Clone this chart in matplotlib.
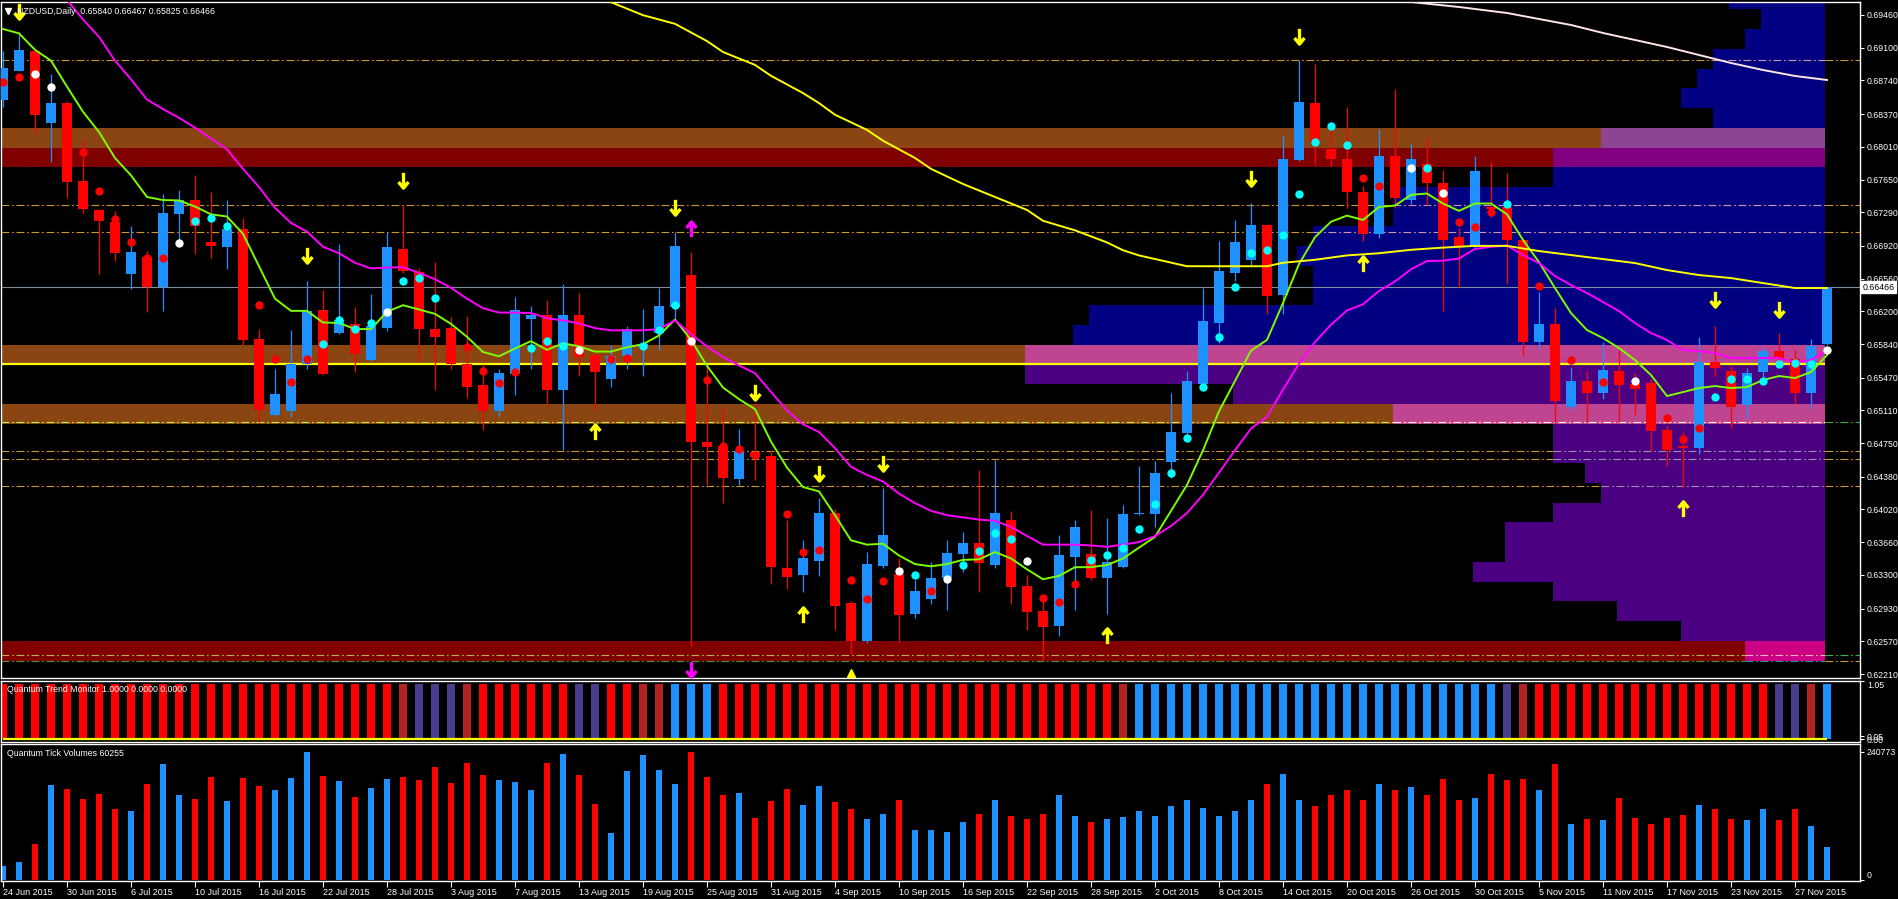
import numpy as np
import matplotlib
matplotlib.use("Agg")
import matplotlib.pyplot as plt
from matplotlib.path import Path

plt.rcParams["font.family"] = ["Liberation Sans", "DejaVu Sans"]

# NZDUSD daily candles, bar 0 = 24 Jun 2015
opens = [0.68520, 0.68849, 0.69063, 0.68277, 0.68491, 0.67639, 0.67320, 0.67182, 0.66610, 0.66801,
         0.66467, 0.67267, 0.67420, 0.66967, 0.66910, 0.67101, 0.65891, 0.65062, 0.65100, 0.65615,
         0.66220, 0.65957, 0.66057, 0.65662, 0.66015, 0.66891, 0.66634, 0.66005, 0.66015, 0.65615,
         0.65386, 0.65100, 0.65505, 0.66115, 0.66162, 0.65338, 0.66162, 0.65719, 0.65457, 0.65710,
         0.65805, 0.65957, 0.66243, 0.66600, 0.64767, 0.64719, 0.64357, 0.64648, 0.64610, 0.63376,
         0.63304, 0.63457, 0.63981, 0.62990, 0.62576, 0.63395, 0.63314, 0.62871, 0.63038, 0.63262,
         0.63528, 0.63652, 0.63409, 0.63900, 0.63176, 0.62904, 0.62733, 0.63495, 0.63528, 0.63271,
         0.63385, 0.63967, 0.63967, 0.64543, 0.64862, 0.65395, 0.66077, 0.66624, 0.66767, 0.67153,
         0.66377, 0.67863, 0.68491, 0.67987, 0.67877, 0.67515, 0.67048, 0.67910, 0.67424, 0.67825,
         0.67615, 0.67015, 0.66910, 0.67348, 0.67348, 0.66985, 0.65862, 0.66060, 0.65147, 0.65433,
         0.65301, 0.65543, 0.65400, 0.65411, 0.64894, 0.64718, 0.64696, 0.65642, 0.65543, 0.65169,
         0.65532, 0.65763, 0.65675, 0.65301, 0.65840]
highs = [0.69063, 0.69268, 0.69077, 0.68806, 0.68515, 0.68091, 0.67329, 0.67301, 0.67143, 0.66862,
         0.67496, 0.67539, 0.67701, 0.67515, 0.67420, 0.67229, 0.66005, 0.65562, 0.66000, 0.66539,
         0.66439, 0.66943, 0.66243, 0.66386, 0.67077, 0.67367, 0.66681, 0.66739, 0.66134, 0.66153,
         0.65624, 0.65567, 0.66362, 0.66262, 0.66329, 0.66496, 0.66405, 0.65753, 0.65829, 0.66043,
         0.66229, 0.66462, 0.67077, 0.66858, 0.65610, 0.65138, 0.64900, 0.65195, 0.64671, 0.63909,
         0.63686, 0.64148, 0.64028, 0.63014, 0.63552, 0.64252, 0.63481, 0.63243, 0.63443, 0.63686,
         0.63776, 0.64457, 0.64567, 0.64005, 0.63304, 0.63076, 0.63738, 0.63909, 0.64019, 0.63924,
         0.64067, 0.64495, 0.64552, 0.65305, 0.65548, 0.66458, 0.66977, 0.67210, 0.67396, 0.67163,
         0.68144, 0.68968, 0.68920, 0.68196, 0.68449, 0.67577, 0.68210, 0.68649, 0.68044, 0.68120,
         0.67753, 0.67115, 0.67910, 0.67844, 0.67720, 0.67007, 0.66412, 0.66236, 0.65587, 0.65543,
         0.65862, 0.65774, 0.65521, 0.65455, 0.64949, 0.64872, 0.65917, 0.66038, 0.65598, 0.65576,
         0.65807, 0.65961, 0.65774, 0.65895, 0.66467]
lows = [0.68444, 0.68839, 0.68148, 0.67839, 0.67448, 0.67277, 0.66610, 0.66753, 0.66443, 0.66196,
        0.66205, 0.66948, 0.66829, 0.66791, 0.66662, 0.65829, 0.64972, 0.65053, 0.65038, 0.65567,
        0.65496, 0.65948, 0.65529, 0.65648, 0.65981, 0.66624, 0.65648, 0.65338, 0.65562, 0.65243,
        0.64895, 0.65043, 0.65281, 0.65562, 0.65181, 0.64671, 0.65491, 0.65124, 0.65362, 0.65562,
        0.65491, 0.65776, 0.66100, 0.62519, 0.64290, 0.64090, 0.64290, 0.64348, 0.63195, 0.63147,
        0.63109, 0.63290, 0.62695, 0.62433, 0.62552, 0.63376, 0.62561, 0.62823, 0.62976, 0.62919,
        0.63328, 0.63109, 0.63376, 0.62981, 0.62695, 0.62361, 0.62623, 0.62919, 0.63243, 0.62871,
        0.63376, 0.63957, 0.63828, 0.64362, 0.64853, 0.65386, 0.65848, 0.66539, 0.66710, 0.66172,
        0.66172, 0.67849, 0.67825, 0.67801, 0.67339, 0.66977, 0.67005, 0.67339, 0.67377, 0.67372,
        0.66205, 0.66467, 0.66900, 0.67243, 0.66496, 0.65708, 0.65785, 0.64971, 0.65114, 0.64982,
        0.65235, 0.64982, 0.65059, 0.64663, 0.64498, 0.64267, 0.64630, 0.65488, 0.64916, 0.65015,
        0.65400, 0.65631, 0.65180, 0.65125, 0.65825]
closes = [0.68877, 0.69077, 0.68363, 0.68491, 0.67625, 0.67324, 0.67191, 0.66839, 0.66858, 0.66467,
          0.67277, 0.67420, 0.67139, 0.66920, 0.67101, 0.65886, 0.65114, 0.65286, 0.65624, 0.66205,
          0.65505, 0.66100, 0.65729, 0.66043, 0.66910, 0.66639, 0.66005, 0.65919, 0.65624, 0.65367,
          0.65100, 0.65519, 0.66220, 0.66162, 0.65338, 0.66162, 0.65696, 0.65529, 0.65710, 0.66005,
          0.65838, 0.66262, 0.66924, 0.64767, 0.64710, 0.64362, 0.64662, 0.64600, 0.63385, 0.63281,
          0.63481, 0.63981, 0.62957, 0.62576, 0.63419, 0.63738, 0.62862, 0.63124, 0.63266, 0.63543,
          0.63652, 0.63433, 0.63981, 0.63162, 0.62895, 0.62728, 0.63519, 0.63824, 0.63271, 0.63447,
          0.63967, 0.63981, 0.64424, 0.64872, 0.65429, 0.66091, 0.66648, 0.66958, 0.67153, 0.66372,
          0.67877, 0.68506, 0.68077, 0.67877, 0.67510, 0.67048, 0.67910, 0.67448, 0.67877, 0.67610,
          0.66982, 0.66905, 0.67748, 0.67324, 0.66982, 0.65862, 0.66060, 0.65213, 0.65433, 0.65301,
          0.65554, 0.65389, 0.65345, 0.64883, 0.64674, 0.64696, 0.65642, 0.65576, 0.65147, 0.65521,
          0.65763, 0.65675, 0.65301, 0.65818, 0.66466]

volumes = [26000, 33800, 67500, 178200, 170700, 152000, 161300, 133200, 129500, 180100,
           217600, 159500, 152000, 193200, 148200, 191400, 176400, 168900, 191400, 240100,
           195100, 185700, 155700, 172600, 189500, 193200, 187600, 212000, 182000, 219500,
           197000, 187600, 183900, 168900, 219500, 236400, 197000, 142600, 88200, 204500,
           234500, 206400, 180100, 240100, 193200, 159500, 163200, 116300, 148200, 170700,
           140700, 176400, 146300, 133200, 114400, 123800, 150100, 93800, 93800, 90100,
           110000, 125000, 150000, 120000, 115000, 125000, 160000, 120000, 110000, 115000,
           118000, 130000, 120000, 140000, 150000, 135000, 120000, 130000, 150000, 180000,
           200000, 150000, 140000, 160000, 170000, 150000, 180000, 170000, 175000, 160000,
           190000, 150000, 155000, 200000, 188100, 190000, 169300, 218200, 105300, 114700,
           112900, 154200, 116600, 105300, 116600, 122300, 141100, 133600, 114700, 112900,
           133600, 112900, 133600, 101600, 62100]

# r = red, f = firebrick, s = slate blue, b = blue
trend_state = ("rrrrrrrrrrrrrrrrrrrrrrrrr" "f" "sss" "f" "rrrrrr" "ss" "rr" "ff" "bbb"
               "rrrrrrrrrrrrrrrrrrrrrrrrr" "f" "bbbbbbbbbbbbbbbbbbbbbbb" "s" "f"
               "rrrrrrrrrrrrrrr" "ss" "f" "b")

fast_ma = [0.69306, 0.69258, 0.69077, 0.68958, 0.68672, 0.68396, 0.68172, 0.67887, 0.67696, 0.67458,
           0.67424, 0.67420, 0.67353, 0.67267, 0.67243, 0.67053, 0.66696, 0.66339, 0.66205, 0.66205,
           0.66077, 0.66072, 0.66005, 0.66005, 0.66196, 0.66267, 0.66220, 0.66172, 0.66062, 0.65919,
           0.65753, 0.65705, 0.65791, 0.65872, 0.65776, 0.65848, 0.65815, 0.65757, 0.65757, 0.65805,
           0.65838, 0.65934, 0.66110, 0.65886, 0.65600, 0.65362, 0.65234, 0.65124, 0.64767, 0.64481,
           0.64267, 0.64219, 0.63957, 0.63681, 0.63633, 0.63643, 0.63514, 0.63419, 0.63395, 0.63419,
           0.63466, 0.63471, 0.63552, 0.63481, 0.63362, 0.63252, 0.63290, 0.63385, 0.63385, 0.63409,
           0.63481, 0.63600, 0.63719, 0.64005, 0.64290, 0.64671, 0.65100, 0.65434, 0.65767, 0.65886,
           0.66291, 0.66720, 0.67015, 0.67186, 0.67253, 0.67205, 0.67348, 0.67363, 0.67482, 0.67496,
           0.67386, 0.67305, 0.67386, 0.67386, 0.67267, 0.66985, 0.66742, 0.66456, 0.66181, 0.65994,
           0.65906, 0.65796, 0.65664, 0.65499, 0.65268, 0.65312, 0.65356, 0.65378, 0.65356, 0.65367,
           0.65444, 0.65488, 0.65466, 0.65532, 0.65719]

slow_ma_start = 4
slow_ma = [0.69625, 0.69411, 0.69220, 0.68958, 0.68753, 0.68530, 0.68425, 0.68329, 0.68220, 0.68101,
           0.67982, 0.67767, 0.67567, 0.67339, 0.67172, 0.67077, 0.66910, 0.66839, 0.66734, 0.66672,
           0.66681, 0.66686, 0.66624, 0.66553, 0.66458, 0.66339, 0.66234, 0.66186, 0.66186, 0.66181,
           0.66124, 0.66100, 0.66067, 0.66015, 0.65991, 0.65991, 0.65991, 0.66005, 0.66100, 0.65948,
           0.65815, 0.65696, 0.65605, 0.65519, 0.65314, 0.65110, 0.64957, 0.64872, 0.64695, 0.64490,
           0.64400, 0.64328, 0.64195, 0.64090, 0.64005, 0.63957, 0.63933, 0.63909, 0.63895, 0.63828,
           0.63728, 0.63633, 0.63633, 0.63633, 0.63624, 0.63609, 0.63633, 0.63662, 0.63728, 0.63838,
           0.63981, 0.64181, 0.64424, 0.64671, 0.64910, 0.65038, 0.65338, 0.65624, 0.65862, 0.66053,
           0.66210, 0.66277, 0.66424, 0.66529, 0.66662, 0.66753, 0.66758, 0.66781, 0.66886, 0.66910,
           0.66924, 0.66819, 0.66731, 0.66588, 0.66489, 0.66401, 0.66302, 0.66203, 0.66071, 0.65961,
           0.65884, 0.65774, 0.65763, 0.65741, 0.65686, 0.65686, 0.65686, 0.65686, 0.65642, 0.65664,
           0.65774]

long_ma_idx = [38, 40, 42, 43, 44, 45, 47, 48, 50, 51, 52, 54, 55, 57, 58, 60, 62, 64, 65, 67, 69, 70,
               71, 74, 77, 79, 80, 82, 84, 86, 88, 90, 92, 94, 96, 98, 100, 102, 104, 106, 108, 110,
               112, 114]
long_ma = [0.69601, 0.69458, 0.69363, 0.69268, 0.69173, 0.69053, 0.68911, 0.68791, 0.68601, 0.68491,
           0.68363, 0.68196, 0.68077, 0.67887, 0.67767, 0.67601, 0.67458, 0.67315, 0.67196, 0.67091,
           0.66958, 0.66872, 0.66815, 0.66696, 0.66696, 0.66696, 0.66734, 0.66767, 0.66815, 0.66839,
           0.66877, 0.66901, 0.66920, 0.66920, 0.66863, 0.66819, 0.66775, 0.66731, 0.66654, 0.66599,
           0.66566, 0.66511, 0.66456, 0.66456]

base_ma_idx = [88, 91, 94, 96, 98, 100, 102, 104, 106, 108, 110, 112, 114]
base_ma = [0.69603, 0.69548, 0.69482, 0.69416, 0.69350, 0.69262, 0.69185, 0.69108, 0.69020, 0.68932,
           0.68855, 0.68789, 0.68745]

red_dot_idx = [0, 1, 5, 6, 7, 8, 9, 10, 16, 17, 18, 19, 29, 30, 31, 32, 38, 39, 44, 45, 46, 47, 49,
               50, 51, 53, 54, 55, 58, 65, 66, 67, 85, 86, 91, 92, 93, 96, 98, 100, 104, 105, 106]
red_dot = [0.68720, 0.68782, 0.67958, 0.67520, 0.67220, 0.66958, 0.66791, 0.66786, 0.66267, 0.65676,
           0.65424, 0.65676, 0.65810, 0.65543, 0.65410, 0.65534, 0.65672, 0.65681, 0.65448, 0.64719,
           0.64686, 0.64624, 0.63971, 0.63557, 0.63576, 0.63247, 0.63038, 0.63233, 0.63119, 0.63042,
           0.63004, 0.63204, 0.67663, 0.67577, 0.67186, 0.67124, 0.67291, 0.66478, 0.65664, 0.65422,
           0.65026, 0.64795, 0.64916]
white_dot_idx = [2, 3, 11, 24, 36, 43, 56, 59, 64, 88, 90, 102, 114]
white_dot = [0.68806, 0.68663, 0.66948, 0.66196, 0.65776, 0.65876, 0.63338, 0.63252, 0.63457, 0.67772,
             0.67501, 0.65433, 0.65774]
cyan_dot_idx = [12, 13, 14, 20, 21, 22, 23, 25, 26, 27, 33, 34, 35, 40, 41, 42, 57, 60, 61, 62, 63,
                68, 69, 70, 71, 72, 73, 74, 75, 76, 77, 78, 79, 80, 81, 82, 83, 84, 89, 94, 107, 108,
                109, 110, 111, 112, 113]
cyan_dot = [0.67191, 0.67224, 0.67134, 0.65838, 0.66100, 0.66005, 0.66077, 0.66529, 0.66562, 0.66343,
            0.65800, 0.65876, 0.65815, 0.65815, 0.65996, 0.66272, 0.63304, 0.63414, 0.63566, 0.63757,
            0.63690, 0.63466, 0.63514, 0.63600, 0.63800, 0.64076, 0.64424, 0.64810, 0.65372, 0.65919,
            0.66467, 0.66839, 0.66872, 0.67039, 0.67486, 0.68058, 0.68244, 0.68025, 0.67772, 0.67382,
            0.65257, 0.65455, 0.65455, 0.65433, 0.65620, 0.65631, 0.65620]

sell_arrow_idx = [1, 19, 25, 42, 47, 51, 55, 78, 81, 107, 111]
sell_arrow = [0.69504, 0.66815, 0.67648, 0.67348, 0.65314, 0.64419, 0.64529, 0.67672, 0.69234,
              0.66335, 0.66225]
buy_arrow_idx = [37, 50, 69, 85, 105]
buy_arrow = [0.64876, 0.62862, 0.62623, 0.66720, 0.64025]
swing_up_idx, swing_up = [43], [0.67101]
swing_down_idx, swing_down = [43], [0.62266]
tri_idx, tri = [53], [0.62219]

# horizontal zones (top, bottom, colour)
band_top = [0.68217, 0.67997, 0.65829, 0.65180, 0.62573]
band_bot = [0.67997, 0.67788, 0.65620, 0.64960, 0.62353]
band_col = [0x8B4513, 0x800000, 0x8B4513, 0x8B4513, 0x800000]

# volume profile rows: edges top->bottom, start bar of each row
prof_edges = [0.69592, 0.69526, 0.69306, 0.69086, 0.68866, 0.68657, 0.68437, 0.68217, 0.67997,
              0.67788, 0.67568, 0.67348, 0.67139, 0.66918, 0.66698, 0.66478, 0.66269, 0.66049,
              0.65829, 0.65620, 0.65400, 0.65180, 0.64960, 0.64751, 0.64531, 0.64311, 0.64091,
              0.63882, 0.63662, 0.63442, 0.63222, 0.63013, 0.62793, 0.62573, 0.62353]
prof_start = [107.9, 109.9, 108.9, 106.9, 105.9, 104.9, 106.9, 99.9, 96.9, 96.9, 86.9, 86.9, 81.9,
              80.9, 81.9, 81.9, 67.9, 66.9,
              63.9, 63.9, 76.9, 86.9, 96.9, 96.9, 98.9, 99.9, 96.9, 93.9, 93.9, 91.9, 96.9, 100.9,
              104.9, 108.9]
n_upper_rows = 18
prof_end = 113.9

level_lines = [0.68965, 0.67370, 0.67073, 0.64977, 0.64663, 0.64575, 0.64278, 0.62419, 0.62353]
level_cols = [0xD2952A, 0xD2952A, 0xD2952A, 0x3CB043, 0xD2952A, 0xD2952A, 0xD2952A, 0x3CB043,
              0xD2952A]
pivot_level = 0.65615
last_price = 0.66466

price_ticks = [0.69460, 0.69100, 0.68740, 0.68370, 0.68010, 0.67650, 0.67290, 0.66920, 0.66560,
               0.66200, 0.65840, 0.65470, 0.65110, 0.64750, 0.64380, 0.64020, 0.63660, 0.63300,
               0.62930, 0.62570, 0.62210]
date_labels = ["24 Jun 2015", "30 Jun 2015", "6 Jul 2015", "10 Jul 2015", "16 Jul 2015",
               "22 Jul 2015", "28 Jul 2015", "3 Aug 2015", "7 Aug 2015", "13 Aug 2015",
               "19 Aug 2015", "25 Aug 2015", "31 Aug 2015", "4 Sep 2015", "10 Sep 2015",
               "16 Sep 2015", "22 Sep 2015", "28 Sep 2015", "2 Oct 2015", "8 Oct 2015",
               "14 Oct 2015", "20 Oct 2015", "26 Oct 2015", "30 Oct 2015", "5 Nov 2015",
               "11 Nov 2015", "17 Nov 2015", "23 Nov 2015", "27 Nov 2015"]

BULL, BEAR = "#1E90FF", "#FF0000"
TREND_COL = {"r": "#FF0000", "f": "#B22222", "s": "#483D8B", "b": "#1E90FF"}
W, H = 1899, 899
XMIN = -0.125
XMAX = XMIN + 1859 / 16
PMIN, PMAX = 0.62166, 0.69603


def px_box(x0, y0, x1, y1):
    return [x0 / W, 1 - y1 / H, (x1 - x0) / W, (y1 - y0) / H]


def hexcol(v):
    return "#%06X" % v


fig = plt.figure(figsize=(W / 100, H / 100), dpi=100, facecolor="black")
ax = fig.add_axes(px_box(1, 2, 1860, 678))
ax_tm = fig.add_axes(px_box(1, 681, 1860, 742))
ax_vol = fig.add_axes(px_box(1, 744, 1860, 881))
for a in (ax, ax_tm, ax_vol):
    a.set_facecolor("black")
    for s in a.spines.values():
        s.set_color("white")
        s.set_linewidth(1.0)
    a.set_xlim(XMIN, XMAX)
    a.tick_params(axis="x", bottom=False, labelbottom=False)
    a.yaxis.tick_right()
    a.tick_params(axis="y", colors="white", length=3, width=0.8, pad=2, labelsize=6.3,
                  left=False, labelleft=False)

# background objects combine like MT4 (xor of colours)
nx, ny = 1859, 676
xc = XMIN + (np.arange(nx) + 0.5) * (XMAX - XMIN) / nx
yc = PMIN + (np.arange(ny) + 0.5) * (PMAX - PMIN) / ny
canvas = np.zeros((ny, nx), dtype=np.int64)


def xor_rect(x0, x1, p_lo, p_hi, color):
    cols = (xc >= x0) & (xc < x1)
    rows = (yc >= p_lo) & (yc < p_hi)
    canvas[np.ix_(rows, cols)] ^= color


for k, start in enumerate(prof_start):
    col = 0x000080 if k < n_upper_rows else 0x4B0082
    xor_rect(start, prof_end, prof_edges[k + 1], prof_edges[k], col)
for top, bot, col in zip(band_top, band_bot, band_col):
    xor_rect(XMIN - 1, prof_end, bot, top, col)

rgb = np.dstack([(canvas >> 16) & 255, (canvas >> 8) & 255, canvas & 255]) / 255.0
ax.imshow(rgb, extent=[XMIN, XMAX, PMIN, PMAX], origin="lower", aspect="auto",
          interpolation="nearest", zorder=0)

# dash-dot levels, xor-ed with whatever lies under them
for p, col in zip(level_lines, level_cols):
    row = canvas[min(np.searchsorted(yc, p), ny - 1)]
    cuts = np.flatnonzero(np.diff(row)) + 1
    for i0, i1 in zip(np.r_[0, cuts], np.r_[cuts, nx]):
        ax.hlines(p, xc[i0] - 1 / 32, xc[i1 - 1] + 1 / 32, color=hexcol(col ^ int(row[i0])),
                  lw=0.8, linestyle=(0, (7, 2.5, 1.5, 2.5)), zorder=1)
ax.axhline(last_price, color="#7F8C99", lw=0.8, zorder=1)

o, h, l, c = (np.array(v) for v in (opens, highs, lows, closes))
x = np.arange(len(o))
candle_col = np.where(c >= o, BULL, BEAR)
ax.vlines(x, l, h, colors=candle_col, linewidth=0.9, zorder=3)
ax.bar(x, np.maximum(np.abs(c - o), 0.00011), bottom=np.minimum(o, c), width=0.65,
       color=candle_col, linewidth=0, zorder=4)

ax.hlines(pivot_level, XMIN, prof_end, color="#FFFF00", lw=1.6, zorder=2)
ax.plot(x, fast_ma, color="#7CFC00", lw=1.4, zorder=5)
ax.plot(np.arange(slow_ma_start, slow_ma_start + len(slow_ma)), slow_ma, color="#FF00FF", lw=1.4,
        zorder=5)
ax.plot(long_ma_idx, long_ma, color="#FFFF00", lw=1.4, zorder=5)
ax.plot(base_ma_idx, base_ma, color="#FFE4E1", lw=1.4, zorder=5)

for idx, vals, col in ((red_dot_idx, red_dot, "#FF0000"), (white_dot_idx, white_dot, "#FFFFFF"),
                       (cyan_dot_idx, cyan_dot, "#00FFFF")):
    ax.plot(idx, vals, "o", color=col, ms=6, mec="none", zorder=6)

down_arrow = Path([(0, 1), (0, -0.9), (-0.65, -0.2), (0, -1), (0.65, -0.2)],
                  [Path.MOVETO, Path.LINETO, Path.MOVETO, Path.LINETO, Path.LINETO])
up_arrow = Path([(0, -1), (0, 0.9), (-0.65, 0.2), (0, 1), (0.65, 0.2)],
                [Path.MOVETO, Path.LINETO, Path.MOVETO, Path.LINETO, Path.LINETO])
arrow_kw = dict(linestyle="none", ms=11, mfc="none", mew=2.4, zorder=7, clip_on=False)
ax.plot(sell_arrow_idx, sell_arrow, marker=down_arrow, mec="#FFFF00", **arrow_kw)
ax.plot(buy_arrow_idx, buy_arrow, marker=up_arrow, mec="#FFFF00", **arrow_kw)
ax.plot(swing_up_idx, swing_up, marker=up_arrow, mec="#FF00FF", **arrow_kw)
ax.plot(swing_down_idx, swing_down, marker=down_arrow, mec="#FF00FF", **arrow_kw)
ax.plot(tri_idx, tri, "^", color="#FFFF00", ms=6, zorder=7)

ax.set_ylim(PMIN, PMAX)
ax.set_yticks(price_ticks)
ax.set_yticklabels([f"{p:.5f}" for p in price_ticks])
ax.text(1.0015, last_price, f"{last_price:.5f}", transform=ax.get_yaxis_transform(),
        ha="left", va="center", fontsize=6.3, color="black", zorder=10, clip_on=False,
        bbox=dict(boxstyle="square,pad=0.18", fc="white", ec="white"))

ax.plot([0.0038], [0.9874], transform=ax.transAxes, marker="v", color="white", ms=4,
        clip_on=False, zorder=8)
fig.text(17 / W, 1 - 11 / H, "NZDUSD,Daily  0.65840 0.66467 0.65825 0.66466", color="white",
         fontsize=6.3, va="center", ha="left", zorder=1)

# trend monitor
ax_tm.bar(x, 1.0, width=0.56, color=[TREND_COL[s] for s in trend_state], linewidth=0)
ax_tm.hlines(0, x[0], x[-1], color="#FFFF00", lw=1.6)
ax_tm.set_ylim(-0.05, 1.05)
ax_tm.set_yticks([1.05, 0.05, 0.0])
ax_tm.set_yticklabels(["1.05", "0.05", "0.00"])
ax_tm.get_yticklabels()[0].set_va("top")
ax_tm.text(6 / 1859, 0.86, "Quantum Trend Monitor 1.0000 0.0000 0.0000", transform=ax_tm.transAxes,
           color="white", fontsize=6.3, ha="left", va="center")

# tick volumes
ax_vol.bar(x, volumes, width=0.33, color=candle_col, linewidth=0)
ax_vol.set_ylim(-1881, 255821)
ax_vol.set_yticks([240773, 0])
ax_vol.set_yticklabels(["240773", "0"])
ax_vol.get_yticklabels()[1].set_va("bottom")
ax_vol.text(6 / 1859, 0.93, "Quantum Tick Volumes 60255", transform=ax_vol.transAxes,
            color="white", fontsize=6.3, ha="left", va="center")
ax_vol.set_xticks(x[::4])
ax_vol.set_xticklabels(date_labels)
ax_vol.tick_params(axis="x", bottom=True, labelbottom=True, colors="white", length=4, width=0.8,
                   pad=1, labelsize=6.5)
for lbl in ax_vol.get_xticklabels():
    lbl.set_ha("left")

fig.savefig("out.png", dpi=100, facecolor="black")
